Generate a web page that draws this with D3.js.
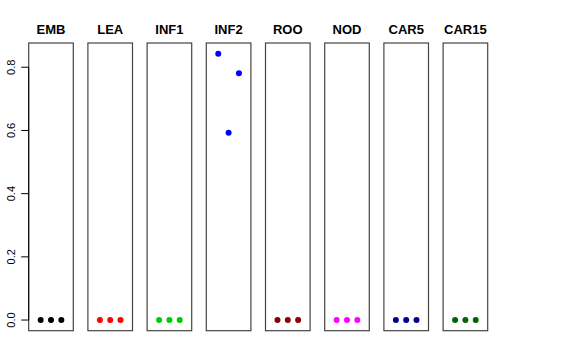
<!DOCTYPE html>
<html>
<head>
<meta charset="utf-8">
<script src="https://cdn.jsdelivr.net/npm/d3@7"></script>
<style>
  body { margin: 0; background: #fff; }
  text { font-family: "Liberation Sans", Arial, Helvetica, sans-serif; }
</style>
</head>
<body>
<svg id="chart" width="576" height="360"></svg>
<script>
// tissues (panel titles)
const tissues = ["EMB", "LEA", "INF1", "INF2", "ROO", "NOD", "CAR5", "CAR15"]
const tissueColors = ["#000000", "#ff0000", "#00cd00", "#0000ff", "#8b0000", "#ff00ff", "#00008b", "#006400"]
// three replicate values per tissue
const valuesEMB = [0, 0, 0]
const valuesLEA = [0, 0, 0]
const valuesINF1 = [0, 0, 0]
const valuesINF2 = [0.843, 0.593, 0.781]
const valuesROO = [0, 0, 0]
const valuesNOD = [0, 0, 0]
const valuesCAR5 = [0, 0, 0]
const valuesCAR15 = [0, 0, 0]
const yTicks = [0, 0.2, 0.4, 0.6, 0.8]

const seriesValues = [valuesEMB, valuesLEA, valuesINF1, valuesINF2,
  valuesROO, valuesNOD, valuesCAR5, valuesCAR15]

const config = {
  top: 43,
  bottom: 330.7,
  left: 28.7,
  right: 487.7
}

const svg = d3.select("#chart")

const panelScale = d3.scaleBand()
    .domain(tissues)
    .range([config.left, config.right])
    .paddingInner(0.2466)
    .paddingOuter(0)

// R-style 4% extension around 0..max
const yMax = 0.843
const yScale = d3.scaleLinear()
    .domain([-0.04 * yMax, yMax * 1.04])
    .range([config.bottom, config.top])

const xScale = d3.scaleLinear()
    .domain([-0.16, 4.16])
    .range([0, panelScale.bandwidth()])

const panels = svg.selectAll(".panel")
  .data(tissues.map((t, i) => ({name: t, color: tissueColors[i], values: seriesValues[i]})))
  .enter()
  .append("g")
  .attr("class", "panel")
  .attr("transform", d => `translate(${panelScale(d.name)},0)`)

panels.append("rect")
    .attr("x", 0)
    .attr("y", config.top)
    .attr("width", panelScale.bandwidth())
    .attr("height", config.bottom - config.top)
    .style("fill", "none")
    .style("stroke", "#444")
    .style("stroke-width", 1.2)

panels.append("text")
    .attr("x", panelScale.bandwidth() / 2)
    .attr("y", 34)
    .attr("text-anchor", "middle")
    .style("font-size", "13px")
    .style("font-weight", "bold")
    .text(d => d.name)

panels.selectAll(".dot")
  .data(d => d.values.map(v => ({v, color: d.color})))
  .enter()
  .append("circle")
  .attr("class", "dot")
  .attr("cx", (d, i) => xScale(i + 1))
  .attr("cy", d => yScale(d.v))
  .attr("r", 3)
  .style("fill", d => d.color)

// left axis, R style
const axisG = svg.append("g")
    .attr("transform", `translate(${config.left},0)`)

axisG.append("line")
    .attr("x1", 0).attr("x2", 0)
    .attr("y1", yScale(yTicks[0]))
    .attr("y2", yScale(yTicks[yTicks.length - 1]))
    .style("stroke", "#000")

const ticks = axisG.selectAll(".tick")
  .data(yTicks)
  .enter()
  .append("g")
  .attr("class", "tick")
  .attr("transform", d => `translate(0,${yScale(d)})`)

ticks.append("line")
    .attr("x1", -7.5).attr("x2", 0)
    .style("stroke", "#000")

ticks.append("text")
    .attr("transform", "translate(-14,0) rotate(-90)")
    .attr("text-anchor", "middle")
    .style("font-size", "11px")
    .text(d => d3.format(".1f")(d))
</script>
</body>
</html>
